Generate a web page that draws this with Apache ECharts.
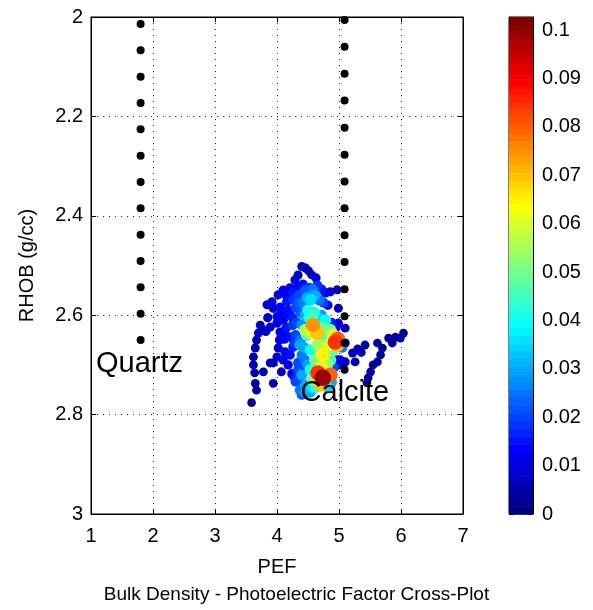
<!DOCTYPE html>
<html><head><meta charset="utf-8">
<script src="https://cdn.jsdelivr.net/npm/echarts@6/dist/echarts.min.js"></script>
<style>html,body{margin:0;padding:0;background:#fff}#c{width:593px;height:610px}</style>
</head><body><div id="c"></div>
<script>
// ---- data ----
const pef = [
 4.40,4.46,4.51,4.56,4.63,4.34,4.29,4.34,4.21,4.10,4.02,4.42,
 4.16,4.27,4.05,3.94,3.92,3.84,4.35,4.45,4.52,4.58,4.65,4.72,4.78,4.86,4.97,4.42,4.48,4.55,4.62,4.68,4.75,4.82,4.99,4.30,4.38,
 4.21,4.10,4.00,3.89,3.78,3.70,4.00,3.73,3.85,
 3.67,3.65,3.62,3.62,3.64,3.65,3.67,3.59,
 4.05,4.04,4.02,4.00,3.94,3.89,3.78,4.07,3.94,3.82,
 4.21,4.26,4.13,4.21,4.34,4.34,4.49,4.46,4.15,4.25,4.30,4.38,4.12,4.28,4.36,4.40,
 4.54,4.50,4.57,4.58,4.65,4.46,4.78,4.86,4.94,4.98,4.83,4.66,4.74,4.62,4.86,4.54,4.37,4.74,4.66,4.86,4.70,4.58,4.54,4.46,4.37,4.30,4.54,4.40,
 4.45,4.52,4.60,4.66,4.72,4.80,4.88,4.95,4.40,4.48,4.55,4.70,4.76,4.90,4.97,5.02,5.05,4.90,4.80,4.68,4.72,4.62,4.45,4.42,4.50,4.92,4.97,4.88,4.82,4.62,4.55,
 5.10,5.22,5.26,5.10,5.02,4.99,5.30,5.42,5.62,5.80,5.91,6.04,5.99,5.86,5.70,5.67,5.62,5.55,5.51,5.47,5.45,5.36,
 5.10,4.99,
 4.08,4.18,4.25,4.12,4.32,4.28,4.18,4.24,4.10,4.40,4.44,4.35,4.25,4.15
];
const rhob = [
 2.502,2.505,2.511,2.519,2.525,2.519,2.529,2.543,2.545,2.550,2.559,2.538,
 2.573,2.569,2.584,2.586,2.573,2.579,2.560,2.550,2.545,2.548,2.540,2.548,2.555,2.553,2.549,2.575,2.565,2.568,2.560,2.570,2.575,2.580,2.586,2.585,2.595,
 2.600,2.610,2.616,2.624,2.630,2.636,2.603,2.620,2.605,
 2.650,2.666,2.684,2.700,2.716,2.737,2.751,2.776,
 2.634,2.650,2.666,2.684,2.696,2.696,2.714,2.714,2.737,2.633,
 2.644,2.664,2.674,2.680,2.696,2.710,2.740,2.755,2.625,2.620,2.640,2.650,2.648,2.725,2.730,2.760,
 2.569,2.590,2.600,2.620,2.636,2.630,2.610,2.630,2.654,2.648,2.660,2.660,2.680,2.690,2.690,2.670,2.660,2.726,2.716,2.720,2.740,2.730,2.710,2.740,2.751,2.734,2.755,2.720,
 2.600,2.605,2.595,2.605,2.600,2.615,2.615,2.625,2.620,2.640,2.635,2.625,2.640,2.640,2.660,2.650,2.665,2.670,2.700,2.700,2.705,2.710,2.690,2.710,2.700,2.705,2.690,2.735,2.745,2.745,2.745,
 2.656,2.676,2.694,2.694,2.690,2.700,2.668,2.660,2.656,2.646,2.644,2.636,2.646,2.656,2.666,2.680,2.694,2.700,2.714,2.726,2.736,2.675,
 2.626,2.616,
 2.595,2.590,2.605,2.632,2.615,2.655,2.700,2.718,2.690,2.680,2.665,2.575,2.555,2.560
];
const dens = [
 0.006,0.006,0.005,0.006,0.008,0.007,0.008,0.012,0.010,0.012,0.010,0.014,
 0.015,0.018,0.012,0.010,0.009,0.008,0.020,0.022,0.020,0.025,0.018,0.015,0.012,0.008,0.006,0.025,0.030,0.035,0.030,0.025,0.020,0.012,0.006,0.020,0.022,
 0.012,0.010,0.010,0.008,0.007,0.006,0.010,0.006,0.008,
 0.005,0.005,0.004,0.004,0.004,0.004,0.003,0.002,
 0.010,0.009,0.008,0.008,0.006,0.006,0.005,0.006,0.004,0.006,
 0.014,0.016,0.012,0.014,0.020,0.020,0.028,0.030,0.015,0.018,0.020,0.025,0.012,0.015,0.020,0.022,
 0.035,0.040,0.045,0.075,0.070,0.055,0.040,0.050,0.085,0.080,0.060,0.055,0.065,0.050,0.045,0.040,0.030,0.100,0.085,0.080,0.070,0.050,0.040,0.030,0.025,0.020,0.030,0.030,
 0.030,0.040,0.040,0.035,0.028,0.020,0.015,0.012,0.028,0.045,0.060,0.050,0.045,0.060,0.070,0.035,0.025,0.050,0.055,0.050,0.060,0.045,0.025,0.020,0.030,0.020,0.010,0.030,0.035,0.040,0.035,
 0.008,0.006,0.005,0.008,0.010,0.010,0.004,0.004,0.003,0.003,0.003,0.002,0.003,0.003,0.003,0.003,0.003,0.003,0.003,0.003,0.002,0.004,
 0.006,0.008,
 0.012,0.014,0.016,0.012,0.020,0.018,0.010,0.012,0.010,0.025,0.030,0.022,0.015,0.012
];
const quartzPef = 1.80;
const quartzRhob = [2.014,2.067,2.120,2.173,2.226,2.279,2.332,2.385,2.438,2.491,2.544,2.597,2.650];
const calcitePef = 5.09;
const calciteRhob = [2.006,2.060,2.114,2.168,2.223,2.277,2.331,2.385,2.439,2.493,2.548,2.602,2.656,2.710];
const labelNames = ['Quartz', 'Calcite'];
const labelPef = [1.08, 4.38];
const labelRhob = [2.698, 2.757];
const pefRange = [1, 7], pefStep = 1;
const rhobRange = [2, 3], rhobStep = 0.2;
const densMax = 0.1027, densStep = 0.01;
const titleText = 'Bulk Density - Photoelectric Factor Cross-Plot';

// ---- styling helpers ----
const FONT = '"Liberation Sans", Arial, Helvetica, sans-serif';
function jet(t) {
  const c = v => Math.round(255 * Math.max(0, Math.min(1, v)));
  return 'rgb(' + c(1.5 - Math.abs(4*t - 3)) + ',' + c(1.5 - Math.abs(4*t - 2)) + ',' + c(1.5 - Math.abs(4*t - 1)) + ')';
}
const NLEV = 64;
const jetColors = [];
for (let i = 0; i < NLEV; i++) jetColors.push(jet(i / (NLEV - 1)));

const cloud = pef.map((x, i) => [x, rhob[i], dens[i]]).sort((a, b) => a[2] - b[2]);
const cbar = jetColors.map((col, i) => [i * densMax / NLEV, (i + 1) * densMax / NLEV, i]);

const grid1 = {left: 91, top: 17, width: 372, height: 497};
const grid2 = {left: 509, top: 17, width: 24, height: 497};
const lblStyle = {color: '#000', fontSize: 20, fontFamily: FONT};
const tick = {show: true, inside: true, length: 5, lineStyle: {color: '#000', width: 1}};
const line = {show: true, onZero: false, lineStyle: {color: '#000', width: 1}};
const dotted = {show: true, lineStyle: {color: '#222', width: 1, type: [1, 5]}};

const chart = echarts.init(document.getElementById('c'), null, {renderer: 'canvas'});
chart.setOption({
  animation: false,
  backgroundColor: '#fff',
  title: {text: titleText, left: 'center', top: 580, textStyle: {fontSize: 19, fontWeight: 'normal', color: '#000', fontFamily: FONT}},
  grid: [Object.assign({show: true, borderColor: '#000', borderWidth: 1}, grid1),
         Object.assign({show: true, borderColor: '#000', borderWidth: 1}, grid2)],
  xAxis: [
    {gridIndex: 0, type: 'value', min: pefRange[0], max: pefRange[1], interval: pefStep, position: 'bottom',
     name: 'PEF', nameLocation: 'middle', nameGap: 43, nameTextStyle: lblStyle,
     axisLine: line, axisTick: tick, axisLabel: Object.assign({margin: 12}, lblStyle), splitLine: dotted},
    {gridIndex: 0, type: 'value', min: pefRange[0], max: pefRange[1], interval: pefStep, position: 'top',
     axisLine: line, axisTick: tick, axisLabel: {show: false}, splitLine: {show: false}},
    {gridIndex: 1, type: 'value', min: 0, max: 1, show: false}
  ],
  yAxis: [
    {gridIndex: 0, type: 'value', min: rhobRange[0], max: rhobRange[1], interval: rhobStep, inverse: true, position: 'left',
     name: 'RHOB (g/cc)', nameLocation: 'middle', nameGap: 54, nameTextStyle: lblStyle,
     axisLine: line, axisTick: tick, axisLabel: Object.assign({margin: 8}, lblStyle), splitLine: dotted},
    {gridIndex: 0, type: 'value', min: rhobRange[0], max: rhobRange[1], interval: rhobStep, inverse: true, position: 'right',
     axisLine: line, axisTick: tick, axisLabel: {show: false}, splitLine: {show: false}},
    {gridIndex: 1, type: 'value', min: 0, max: densMax, interval: densStep, position: 'right',
     axisLine: line, axisTick: tick, splitLine: {show: false},
     axisLabel: Object.assign({margin: 9, showMaxLabel: false, formatter: v => String(+v.toFixed(2))}, lblStyle)},
    {gridIndex: 1, type: 'value', min: 0, max: densMax, interval: densStep, position: 'left',
     axisLine: line, axisTick: tick, axisLabel: {show: false}, splitLine: {show: false}}
  ],
  visualMap: {show: false, type: 'continuous', min: 0, max: densMax, dimension: 2, seriesIndex: 0, inRange: {color: jetColors}},
  series: [
    {type: 'scatter', xAxisIndex: 0, yAxisIndex: 0, data: cloud, z: 2,
     symbol: 'circle', symbolSize: d => 8.5 + d[2] * 80, itemStyle: {opacity: 1}},
    {type: 'scatter', xAxisIndex: 0, yAxisIndex: 0, z: 3, symbol: 'circle', symbolSize: 8, itemStyle: {color: '#000', opacity: 1},
     data: quartzRhob.map(r => [quartzPef, r]).concat(calciteRhob.map(r => [calcitePef, r])), clip: true},
    {type: 'scatter', xAxisIndex: 0, yAxisIndex: 0, z: 4, symbolSize: 0, itemStyle: {opacity: 1},
     data: labelNames.map((n, i) => ({name: n, value: [labelPef[i], labelRhob[i]]})),
     label: {show: true, position: 'right', distance: 0, formatter: p => p.name, color: '#000', fontSize: 29, fontFamily: FONT}},
    {type: 'custom', xAxisIndex: 2, yAxisIndex: 2, data: cbar, z: 1,
     renderItem: (params, api) => {
       const p0 = api.coord([0, api.value(0)]);
       const p1 = api.coord([1, api.value(1)]);
       return {type: 'rect', shape: {x: p0[0], y: p1[1], width: p1[0] - p0[0], height: p0[1] - p1[1] + 0.6},
               style: {fill: jetColors[api.value(2)]}};
     }}
  ]
});
</script></body></html>
